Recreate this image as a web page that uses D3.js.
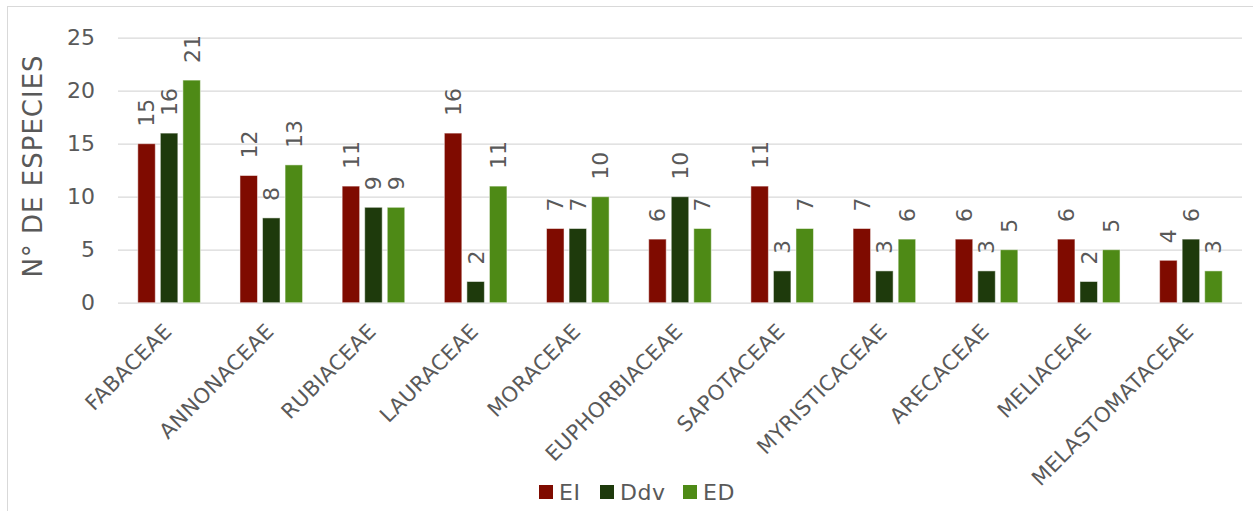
<!DOCTYPE html>
<html>
<head>
<meta charset="utf-8">
<script src="https://cdn.jsdelivr.net/npm/d3@7"></script>
<style>
  body { margin: 0; background: #fff; }
  text { font-family: "DejaVu Sans", Verdana, sans-serif; fill: #595959; }
</style>
</head>
<body>
<svg id="chart" width="1253" height="511"></svg>
<script>
const categories = ['FABACEAE', 'ANNONACEAE', 'RUBIACEAE', 'LAURACEAE', 'MORACEAE', 'EUPHORBIACEAE',
  'SAPOTACEAE', 'MYRISTICACEAE', 'ARECACEAE', 'MELIACEAE', 'MELASTOMATACEAE']
const seriesNames = ['EI', 'Ddv', 'ED']
const valuesEI = [15, 12, 11, 16, 7, 6, 11, 7, 6, 6, 4]
const valuesDdv = [16, 8, 9, 2, 7, 10, 3, 3, 3, 2, 6]
const valuesED = [21, 13, 9, 11, 10, 7, 7, 6, 5, 5, 3]
const yTicks = [0, 5, 10, 15, 20, 25]
const colors = ['#7f0b00', '#1e3a0c', '#4e8a16']

const svg = d3.select('#chart')
const plotLeft = 118, plotRight = 1242, plotTop = 37.7, plotBottom = 302.7

// outer frame
svg.append('rect')
  .attr('x', 7.5).attr('y', 6.5)
  .attr('width', 1260).attr('height', 520)
  .attr('fill', 'none').attr('stroke', '#d9d9d9')

const x0 = d3.scaleBand().domain(categories).range([plotLeft, plotRight]).padding(0)
const x1 = d3.scaleBand().domain(seriesNames).range([0, x0.bandwidth()])
  .paddingInner(0.224).paddingOuter(0.878)
const y = d3.scaleLinear().domain([0, 25]).range([plotBottom, plotTop])

// y axis with gridlines
const yAxis = d3.axisLeft(y).tickValues(yTicks).tickSize(-(plotRight - plotLeft)).tickPadding(23)
const gy = svg.append('g').attr('transform', `translate(${plotLeft},0)`).call(yAxis)
gy.select('.domain').remove()
gy.selectAll('line').attr('stroke', '#d9d9d9').attr('stroke-width', 1.3)
gy.selectAll('text').style('font-size', '22px').style('fill', '#595959')
  .style('font-family', '"DejaVu Sans", Verdana, sans-serif')

const table = categories.map((c, i) => ({
  cat: c,
  vals: [valuesEI[i], valuesDdv[i], valuesED[i]]
}))

const groups = svg.append('g').selectAll('g').data(table).join('g')
  .attr('transform', d => `translate(${x0(d.cat)},0)`)

groups.selectAll('rect').data(d => d.vals.map((v, k) => ({ key: seriesNames[k], v, k })))
  .join('rect')
  .attr('x', d => x1(d.key))
  .attr('y', d => y(d.v))
  .attr('width', x1.bandwidth())
  .attr('height', d => y(0) - y(d.v))
  .attr('fill', d => colors[d.k])
  .attr('stroke', 'rgba(255,255,255,0.5)')
  .attr('stroke-width', 1)

// value labels, rotated
groups.selectAll('text.val').data(d => d.vals.map((v, k) => ({ key: seriesNames[k], v, k })))
  .join('text')
  .attr('class', 'val')
  .attr('transform', d => `translate(${x1(d.key) + x1.bandwidth() / 2},${y(d.v) - 17}) rotate(-90)`)
  .attr('dy', '0.36em')
  .style('font-size', '22px')
  .text(d => d.v)

// category labels
svg.append('g').selectAll('text').data(categories).join('text')
  .attr('transform', d => `translate(${x0(d) + x0.bandwidth() / 2 + 4},${plotBottom + 30}) rotate(-45)`)
  .attr('text-anchor', 'end')
  .style('font-size', '21px')
  .style('letter-spacing', '0.4px')
  .text(d => d)

// y axis title
svg.append('text')
  .attr('transform', `translate(42,166) rotate(-90)`)
  .attr('text-anchor', 'middle')
  .style('font-size', '26px')
  .style('letter-spacing', '1px')
  .text('N° DE ESPECIES')

// legend
const legendX = [539, 600, 683]
const lg = svg.append('g').selectAll('g').data(seriesNames).join('g')
  .attr('transform', (d, i) => `translate(${legendX[i]},485)`)
lg.append('rect').attr('width', 14).attr('height', 14).attr('fill', (d, i) => colors[i])
lg.append('text').attr('x', 20).attr('y', 15).style('font-size', '22px')
  .style('letter-spacing', '0.5px').text(d => d)
</script>
</body>
</html>
